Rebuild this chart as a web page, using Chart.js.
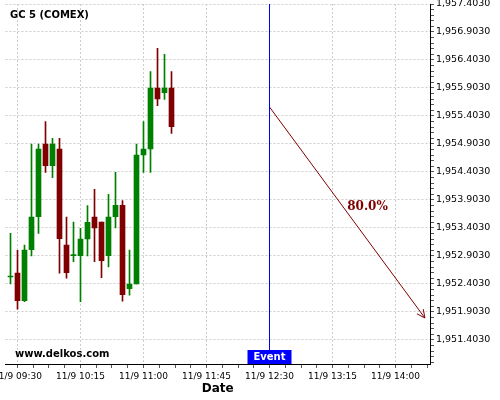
<!DOCTYPE html>
<html>
<head>
<meta charset="utf-8">
<script src="https://cdn.jsdelivr.net/npm/chart.js@4.4.1/dist/chart.umd.min.js"></script>
<style>
  body { margin: 0; background: #fff; }
</style>
</head>
<body>
<canvas id="myChart" width="500" height="400"></canvas>
<script>
// 5 minute candles on 11/9
const times = ["09:25", "09:30", "09:35", "09:40", "09:45", "09:50", "09:55", "10:00",
  "10:05", "10:10", "10:15", "10:20", "10:25", "10:30", "10:35", "10:40",
  "10:45", "10:50", "10:55", "11:00", "11:05", "11:10", "11:15", "11:20"];
const opens = [1952.528, 1952.599, 1952.105, 1953.016, 1953.605, 1954.903, 1954.516, 1954.814,
  1953.099, 1952.909, 1952.909, 1953.207, 1953.599, 1953.510, 1952.909, 1953.605,
  1953.808, 1952.319, 1952.403, 1954.707, 1954.814, 1955.903, 1955.820, 1955.903];
const highs = [1953.308, 1953.005, 1953.099, 1954.903, 1954.903, 1955.302, 1955.004, 1955.004,
  1953.599, 1953.510, 1953.398, 1953.801, 1954.094, 1953.510, 1954.005, 1954.397,
  1953.891, 1953.010, 1954.903, 1955.302, 1956.195, 1956.611, 1956.504, 1956.195];
const lows = [1952.403, 1951.951, 1952.087, 1952.903, 1953.308, 1954.397, 1954.302, 1952.594,
  1952.505, 1952.802, 1952.087, 1952.903, 1952.802, 1952.516, 1952.707, 1953.403,
  1952.094, 1952.201, 1952.403, 1954.397, 1954.397, 1955.588, 1955.701, 1955.094];
const closes = [1952.528, 1952.105, 1953.010, 1953.599, 1954.814, 1954.516, 1954.903, 1953.212,
  1952.605, 1952.909, 1953.207, 1953.505, 1953.403, 1952.820, 1953.599, 1953.808,
  1952.212, 1952.403, 1954.707, 1954.814, 1955.903, 1955.707, 1955.903, 1955.212];

// event and forecast arrow
const eventTime = "12:30";
const eventLine = [1957.403, 1951.224];
const arrowTimes = ["12:30", "14:21"];
const arrowPrices = [1955.564, 1951.796];
const arrowLabel = "80.0%";

// axes
const xRange = [561.43, 864.64];
const xMajorTicks = ["09:30", "10:15", "11:00", "11:45", "12:30", "13:15", "14:00"];
const yRange = [1950.974, 1957.403];
const yMajorTicks = [1951.403, 1951.903, 1952.403, 1952.903, 1953.403, 1953.903, 1954.403,
  1954.903, 1955.403, 1955.903, 1956.403, 1956.903, 1957.403];

const toMin = (s) => {
  const [h, m] = s.split(":").map(Number);
  return h * 60 + m;
};
const pad = (n) => String(n).padStart(2, "0");
const fmtTime = (v) => "11/9 " + pad(Math.floor(v / 60)) + ":" + pad(Math.round(v % 60));

const GREEN = "#008000";
const RED = "#800000";
const candleColors = opens.map((o, i) => (closes[i] >= o ? GREEN : RED));

const wickData = times.map((t, i) => ({ x: toMin(t), y: [lows[i], highs[i]] }));
const bodyData = times.map((t, i) => ({ x: toMin(t), y: [opens[i], closes[i]] }));

const majorX = xMajorTicks.map(toMin);
const isMajorX = (v) => majorX.some((m) => Math.abs(m - v) < 0.01);
const isMajorY = (v) => yMajorTicks.some((m) => Math.abs(m - v) < 0.0001);
const isEdgeX = (v) => v === xRange[0] || v === xRange[1];

const overlay = {
  id: "overlay",
  afterDatasetsDraw: (chart) => {
    const ctx = chart.ctx;
    const area = chart.chartArea;
    ctx.save();

    // title + site name
    ctx.fillStyle = "#000";
    ctx.font = "bold 10px 'DejaVu Sans'";
    ctx.textBaseline = "middle";
    ctx.textAlign = "left";
    ctx.fillText("GC 5 (COMEX)", area.left + 4.5, area.top + 11);
    ctx.fillText("www.delkos.com", area.left + 9.5, area.bottom - 10);

    // arrow head + label
    const arrow = chart.getDatasetMeta(3).data;
    const p1 = arrow[0], p2 = arrow[1];
    const ang = Math.atan2(p2.y - p1.y, p2.x - p1.x);
    ctx.strokeStyle = RED;
    ctx.lineWidth = 1;
    ctx.beginPath();
    ctx.moveTo(p2.x - 9 * Math.cos(ang - 0.45), p2.y - 9 * Math.sin(ang - 0.45));
    ctx.lineTo(p2.x, p2.y);
    ctx.lineTo(p2.x - 9 * Math.cos(ang + 0.45), p2.y - 9 * Math.sin(ang + 0.45));
    ctx.stroke();

    const mx = (p1.x + p2.x) / 2, my = (p1.y + p2.y) / 2;
    ctx.fillStyle = RED;
    ctx.font = "bold 12px 'DejaVu Serif'";
    ctx.fillText(arrowLabel, mx, my - 6);

    // event label box
    const ex = chart.scales.x.getPixelForValue(toMin(eventTime));
    ctx.fillStyle = "#0000ff";
    ctx.fillRect(ex - 22, area.bottom - 14, 44, 14);
    ctx.fillStyle = "#fff";
    ctx.font = "bold 10px 'DejaVu Sans'";
    ctx.textAlign = "center";
    ctx.fillText("Event", ex, area.bottom - 6.5);
    ctx.restore();
  },
};

const config = {
  type: "bar",
  data: {
    datasets: [
      {
        label: "wick",
        data: wickData,
        backgroundColor: candleColors,
        barThickness: 1,
        grouped: false,
        order: 2,
      },
      {
        label: "body",
        data: bodyData,
        backgroundColor: candleColors,
        barThickness: 5,
        minBarLength: 1,
        grouped: false,
        order: 1,
      },
      {
        type: "line",
        label: "event",
        data: eventLine.map((y) => ({ x: toMin(eventTime), y: y })),
        borderColor: "#0000ff",
        borderWidth: 1,
        pointRadius: 0,
        order: 0,
      },
      {
        type: "line",
        label: "arrow",
        data: arrowTimes.map((t, i) => ({ x: toMin(t), y: arrowPrices[i] })),
        borderColor: RED,
        borderWidth: 1,
        pointRadius: 0,
        order: 0,
      },
    ],
  },
  options: {
    responsive: false,
    animation: false,
    layout: { padding: { left: 5.5, top: 4, right: 0, bottom: 0 } },
    plugins: {
      legend: { display: false },
      tooltip: { enabled: false },
    },
    scales: {
      x: {
        type: "linear",
        offset: false,
        min: xRange[0],
        max: xRange[1],
        afterBuildTicks: (scale) => {
          // blank edge ticks keep the labels from padding the plot area
          const ticks = [{ value: xRange[0] }];
          for (let k = 0; k <= 26; k++) ticks.push({ value: 570 + k * 11.25 });
          ticks.push({ value: xRange[1] });
          scale.ticks = ticks;
        },
        afterFit: (scale) => {
          scale.height = 36;
        },
        ticks: {
          autoSkip: false,
          maxRotation: 0,
          padding: 3,
          color: "#000",
          font: { family: "DejaVu Sans", size: 9 },
          callback: (v) => (isMajorX(v) ? fmtTime(v) : ""),
        },
        grid: {
          offset: false,
          color: (c) => (c.tick && isMajorX(c.tick.value) ? "#cccccc" : "rgba(0,0,0,0)"),
          tickColor: (c) => (c.tick && isEdgeX(c.tick.value) ? "rgba(0,0,0,0)" : "#555"),
          tickLength: 4,
        },
        border: { color: "#000", width: 1, dash: [2, 2] },
        title: {
          display: true,
          text: "Date",
          color: "#000",
          font: { family: "DejaVu Sans", size: 12, weight: "bold" },
          padding: { top: 0, bottom: 4 },
        },
      },
      y: {
        type: "linear",
        position: "right",
        min: yRange[0],
        max: yRange[1],
        afterBuildTicks: (scale) => {
          const ticks = [];
          for (let k = -4; k <= 60; k++) ticks.push({ value: +(1951.403 + k * 0.1).toFixed(3) });
          scale.ticks = ticks;
        },
        afterFit: (scale) => {
          scale.width = 70;
          scale.paddingTop = 0;
          scale.paddingBottom = 0;
        },
        ticks: {
          autoSkip: false,
          padding: 2,
          color: "#000",
          font: { family: "DejaVu Sans", size: 9.5 },
          callback: (v) =>
            isMajorY(v)
              ? v.toLocaleString("en-US", { minimumFractionDigits: 4, maximumFractionDigits: 4 })
              : "",
        },
        grid: {
          color: (c) => (c.tick && isMajorY(c.tick.value) ? "#cccccc" : "rgba(0,0,0,0)"),
          tickColor: "#555",
          tickLength: 4,
        },
        border: { color: "#000", width: 1, dash: [2, 2] },
      },
    },
  },
  plugins: [overlay],
};

const myChart = new Chart(document.getElementById("myChart"), config);
</script>
</body>
</html>
